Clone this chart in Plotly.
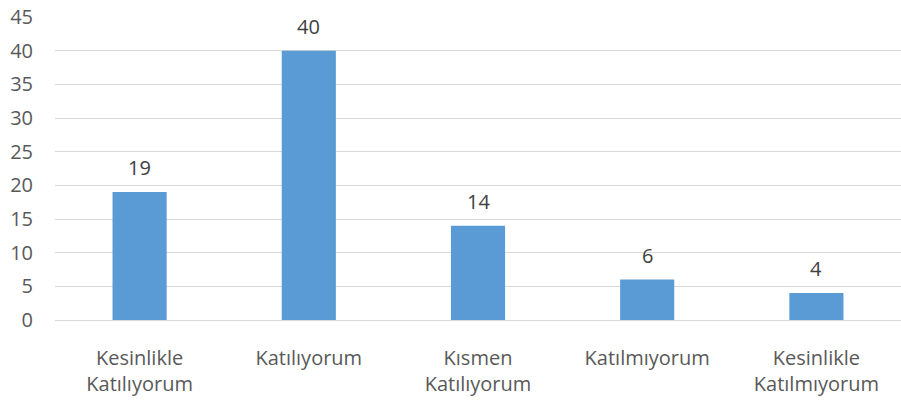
import plotly.graph_objects as go

categories = ["Kesinlikle<br>Katılıyorum", "Katılıyorum", "Kısmen<br>Katılıyorum", "Katılmıyorum", "Kesinlikle<br>Katılmıyorum"]
values = [19, 40, 14, 6, 4]
tick_vals = [0, 5, 10, 15, 20, 25, 30, 35, 40, 45]

font_family = "Open Sans, Liberation Sans, sans-serif"
fig = go.Figure(go.Bar(
    x=categories, y=values,
    marker=dict(color="#5B9BD5", line=dict(width=0)),
    hoverinfo="skip",
))
for c, v in zip(categories, values):
    fig.add_annotation(x=c, y=v, text=str(v), showarrow=False, yanchor="bottom", yshift=9,
                       font=dict(size=20, color="#404040", family=font_family))
fig.update_layout(
    width=901, height=401,
    margin=dict(l=55, r=0, t=17, b=81),
    plot_bgcolor="white", paper_bgcolor="white",
    bargap=0.68, showlegend=False,
    font=dict(family=font_family, size=20, color="#595959"),
)
fig.update_yaxes(range=[0, 45], tickvals=tick_vals, showgrid=True, gridcolor="#D9D9D9", gridwidth=1.3,
                 zeroline=False, showline=False, ticks="", ticklabelstandoff=21, automargin=False,
                 tickfont=dict(size=20, color="#595959"))
fig.update_xaxes(showline=True, linecolor="#D9D9D9", linewidth=1.3, ticks="", ticklabelstandoff=20,
                 automargin=False, tickfont=dict(size=20, color="#595959"))
fig.write_html("out.html", config={"displayModeBar": False},
               post_script="document.body.style.margin='0px';document.body.style.overflow='hidden';")
